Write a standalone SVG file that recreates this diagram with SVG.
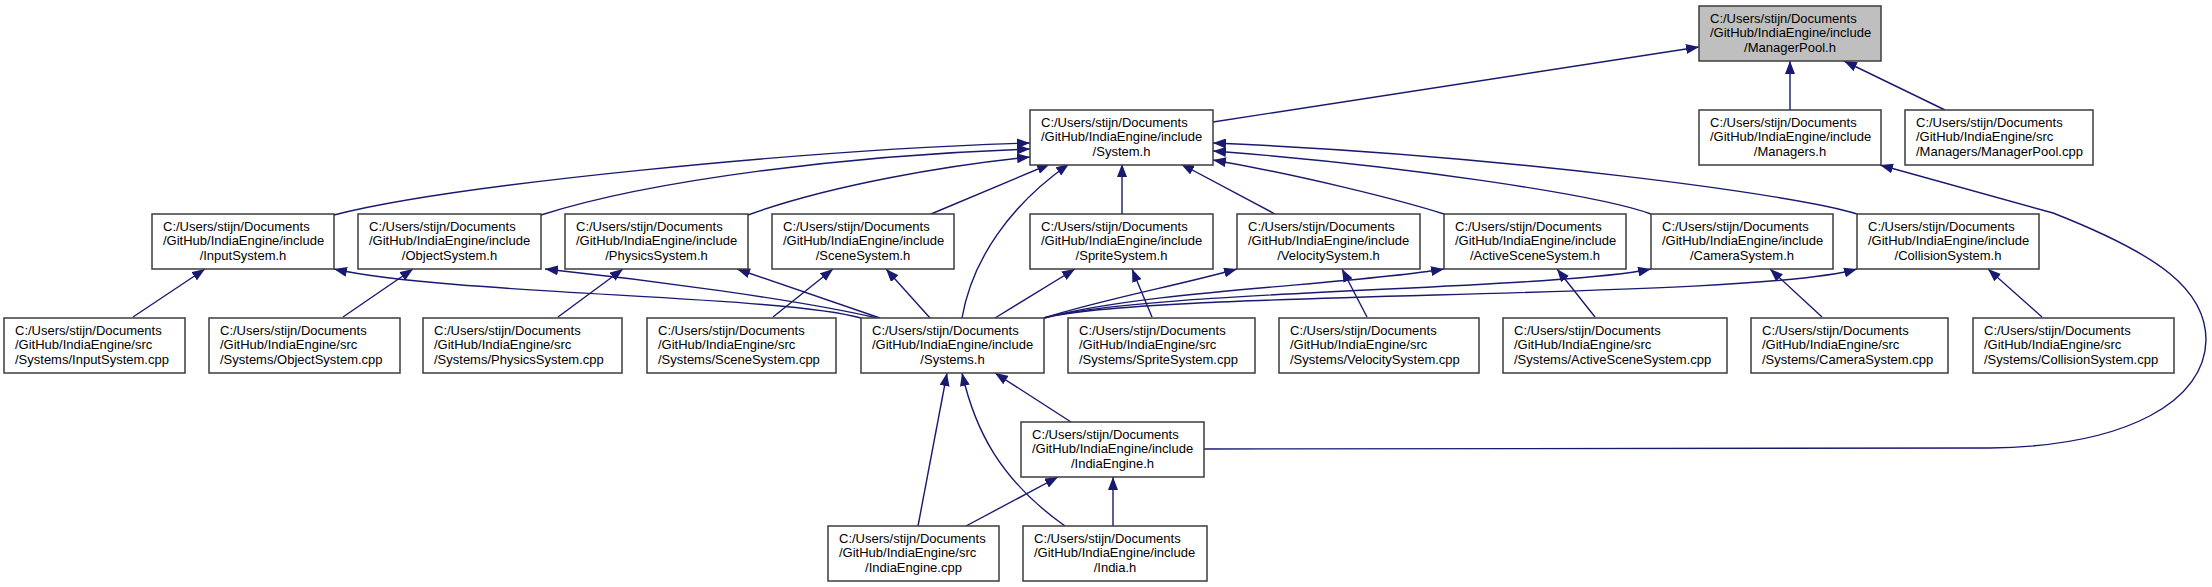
<svg xmlns="http://www.w3.org/2000/svg" width="2212" height="587" viewBox="0 0 2212 587">
<style>
.n rect{fill:#fff;stroke:#3c3c3c;stroke-width:1.5}
.n.g rect{fill:#bfbfbf}
.n text{font-family:"Liberation Sans",Arial,sans-serif;font-size:13px;fill:#000}
.n text.c{text-anchor:middle}
.e path{fill:none;stroke:#191970;stroke-width:1.4;marker-end:url(#ah)}
</style>
<defs>
<marker id="ah" markerUnits="userSpaceOnUse" markerWidth="14" markerHeight="10" refX="13" refY="5" orient="auto"><path d="M0,0 L13,5 L0,10 z" fill="#191970"/></marker>
</defs>
<rect width="2212" height="587" fill="#fff"/>
<g class="e" id="edges">
<path d="M1213,122 L1699,47"/>
<path d="M1790,110 L1790,61"/>
<path d="M1945,110 L1844,61"/>
<path d="M1204,449 L1990,448 C2130,446 2205,400 2206,340 C2206,290 2160,255 2053,213 L1880,165"/>
<path d="M334,215 C450,185 800,150 1030,143"/>
<path d="M541,215 C650,180 850,155 1030,149"/>
<path d="M748,215 C830,185 950,165 1030,157"/>
<path d="M931,214 L1050,164"/>
<path d="M962,318 C972,260 1010,205 1069,164"/>
<path d="M1122,214 L1122,164"/>
<path d="M1275,214 L1181,164"/>
<path d="M1444,214 C1400,200 1300,175 1213,160"/>
<path d="M1651,214 C1600,195 1400,165 1213,151"/>
<path d="M1857,214 C1800,195 1500,155 1213,143"/>
<path d="M861,318 C780,295 450,295 334,269"/>
<path d="M877,318 C800,300 650,280 545,269"/>
<path d="M880,318 L737,269"/>
<path d="M930,318 L886,269"/>
<path d="M995,318 L1075,269"/>
<path d="M1044,318 C1100,300 1180,285 1237,269"/>
<path d="M1044,318 C1150,290 1350,285 1444,269"/>
<path d="M1044,318 C1150,290 1550,290 1651,269"/>
<path d="M1044,318 C1150,290 1750,300 1857,269"/>
<path d="M1071,422 L995,373"/>
<path d="M918,526 L947,373"/>
<path d="M1065,526 C1000,480 975,430 962,373"/>
<path d="M966,526 L1058,477"/>
<path d="M1113,526 L1113,477"/>
<path d="M133,317 L205,269"/>
<path d="M343,317 L413,269"/>
<path d="M558,317 L623,269"/>
<path d="M773,317 L833,269"/>
<path d="M1152,317 L1132,269"/>
<path d="M1367,317 L1342,269"/>
<path d="M1595,317 L1557,269"/>
<path d="M1822,317 L1770,269"/>
<path d="M2042,317 L1988,269"/>
</g>
<g class="n g" id="n_managerpool_h"><rect x="1699" y="6" width="182" height="55"/><text x="1710" y="22.8">C:/Users/stijn/Documents</text><text x="1710" y="37.3">/GitHub/IndiaEngine/include</text><text class="c" x="1790" y="51.8">/ManagerPool.h</text></g>
<g class="n" id="n_system_h"><rect x="1030" y="110" width="183" height="55"/><text x="1041" y="126.8">C:/Users/stijn/Documents</text><text x="1041" y="141.3">/GitHub/IndiaEngine/include</text><text class="c" x="1121.5" y="155.8">/System.h</text></g>
<g class="n" id="n_managers_h"><rect x="1699" y="110" width="182" height="55"/><text x="1710" y="126.8">C:/Users/stijn/Documents</text><text x="1710" y="141.3">/GitHub/IndiaEngine/include</text><text class="c" x="1790" y="155.8">/Managers.h</text></g>
<g class="n" id="n_managerpool_cpp"><rect x="1905" y="110" width="188" height="55"/><text x="1916" y="126.8">C:/Users/stijn/Documents</text><text x="1916" y="141.3">/GitHub/IndiaEngine/src</text><text x="1916" y="155.8">/Managers/ManagerPool.cpp</text></g>
<g class="n" id="n_inputsystem_h"><rect x="152" y="214" width="182" height="55"/><text x="163" y="230.8">C:/Users/stijn/Documents</text><text x="163" y="245.3">/GitHub/IndiaEngine/include</text><text class="c" x="243" y="259.8">/InputSystem.h</text></g>
<g class="n" id="n_objectsystem_h"><rect x="358" y="214" width="183" height="55"/><text x="369" y="230.8">C:/Users/stijn/Documents</text><text x="369" y="245.3">/GitHub/IndiaEngine/include</text><text class="c" x="449.5" y="259.8">/ObjectSystem.h</text></g>
<g class="n" id="n_physicssystem_h"><rect x="565" y="214" width="183" height="55"/><text x="576" y="230.8">C:/Users/stijn/Documents</text><text x="576" y="245.3">/GitHub/IndiaEngine/include</text><text class="c" x="656.5" y="259.8">/PhysicsSystem.h</text></g>
<g class="n" id="n_scenesystem_h"><rect x="772" y="214" width="182" height="55"/><text x="783" y="230.8">C:/Users/stijn/Documents</text><text x="783" y="245.3">/GitHub/IndiaEngine/include</text><text class="c" x="863" y="259.8">/SceneSystem.h</text></g>
<g class="n" id="n_spritesystem_h"><rect x="1030" y="214" width="183" height="55"/><text x="1041" y="230.8">C:/Users/stijn/Documents</text><text x="1041" y="245.3">/GitHub/IndiaEngine/include</text><text class="c" x="1121.5" y="259.8">/SpriteSystem.h</text></g>
<g class="n" id="n_velocitysystem_h"><rect x="1237" y="214" width="183" height="55"/><text x="1248" y="230.8">C:/Users/stijn/Documents</text><text x="1248" y="245.3">/GitHub/IndiaEngine/include</text><text class="c" x="1328.5" y="259.8">/VelocitySystem.h</text></g>
<g class="n" id="n_activescenesystem_h"><rect x="1444" y="214" width="182" height="55"/><text x="1455" y="230.8">C:/Users/stijn/Documents</text><text x="1455" y="245.3">/GitHub/IndiaEngine/include</text><text class="c" x="1535" y="259.8">/ActiveSceneSystem.h</text></g>
<g class="n" id="n_camerasystem_h"><rect x="1651" y="214" width="182" height="55"/><text x="1662" y="230.8">C:/Users/stijn/Documents</text><text x="1662" y="245.3">/GitHub/IndiaEngine/include</text><text class="c" x="1742" y="259.8">/CameraSystem.h</text></g>
<g class="n" id="n_collisionsystem_h"><rect x="1857" y="214" width="182" height="55"/><text x="1868" y="230.8">C:/Users/stijn/Documents</text><text x="1868" y="245.3">/GitHub/IndiaEngine/include</text><text class="c" x="1948" y="259.8">/CollisionSystem.h</text></g>
<g class="n" id="n_inputsystem_cpp"><rect x="4" y="318" width="181" height="55"/><text x="15" y="334.8">C:/Users/stijn/Documents</text><text x="15" y="349.3">/GitHub/IndiaEngine/src</text><text x="15" y="363.8">/Systems/InputSystem.cpp</text></g>
<g class="n" id="n_objectsystem_cpp"><rect x="209" y="318" width="191" height="55"/><text x="220" y="334.8">C:/Users/stijn/Documents</text><text x="220" y="349.3">/GitHub/IndiaEngine/src</text><text x="220" y="363.8">/Systems/ObjectSystem.cpp</text></g>
<g class="n" id="n_physicssystem_cpp"><rect x="423" y="318" width="199" height="55"/><text x="434" y="334.8">C:/Users/stijn/Documents</text><text x="434" y="349.3">/GitHub/IndiaEngine/src</text><text x="434" y="363.8">/Systems/PhysicsSystem.cpp</text></g>
<g class="n" id="n_scenesystem_cpp"><rect x="647" y="318" width="189" height="55"/><text x="658" y="334.8">C:/Users/stijn/Documents</text><text x="658" y="349.3">/GitHub/IndiaEngine/src</text><text x="658" y="363.8">/Systems/SceneSystem.cpp</text></g>
<g class="n" id="n_systems_h"><rect x="861" y="318" width="183" height="55"/><text x="872" y="334.8">C:/Users/stijn/Documents</text><text x="872" y="349.3">/GitHub/IndiaEngine/include</text><text class="c" x="952.5" y="363.8">/Systems.h</text></g>
<g class="n" id="n_spritesystem_cpp"><rect x="1068" y="318" width="187" height="55"/><text x="1079" y="334.8">C:/Users/stijn/Documents</text><text x="1079" y="349.3">/GitHub/IndiaEngine/src</text><text x="1079" y="363.8">/Systems/SpriteSystem.cpp</text></g>
<g class="n" id="n_velocitysystem_cpp"><rect x="1279" y="318" width="200" height="55"/><text x="1290" y="334.8">C:/Users/stijn/Documents</text><text x="1290" y="349.3">/GitHub/IndiaEngine/src</text><text x="1290" y="363.8">/Systems/VelocitySystem.cpp</text></g>
<g class="n" id="n_activescenesystem_cpp"><rect x="1503" y="318" width="224" height="55"/><text x="1514" y="334.8">C:/Users/stijn/Documents</text><text x="1514" y="349.3">/GitHub/IndiaEngine/src</text><text x="1514" y="363.8">/Systems/ActiveSceneSystem.cpp</text></g>
<g class="n" id="n_camerasystem_cpp"><rect x="1751" y="318" width="197" height="55"/><text x="1762" y="334.8">C:/Users/stijn/Documents</text><text x="1762" y="349.3">/GitHub/IndiaEngine/src</text><text x="1762" y="363.8">/Systems/CameraSystem.cpp</text></g>
<g class="n" id="n_collisionsystem_cpp"><rect x="1973" y="318" width="201" height="55"/><text x="1984" y="334.8">C:/Users/stijn/Documents</text><text x="1984" y="349.3">/GitHub/IndiaEngine/src</text><text x="1984" y="363.8">/Systems/CollisionSystem.cpp</text></g>
<g class="n" id="n_indiaengine_h"><rect x="1021" y="422" width="183" height="55"/><text x="1032" y="438.8">C:/Users/stijn/Documents</text><text x="1032" y="453.3">/GitHub/IndiaEngine/include</text><text class="c" x="1112.5" y="467.8">/IndiaEngine.h</text></g>
<g class="n" id="n_indiaengine_cpp"><rect x="828" y="526" width="171" height="55"/><text x="839" y="542.8">C:/Users/stijn/Documents</text><text x="839" y="557.3">/GitHub/IndiaEngine/src</text><text class="c" x="913.5" y="571.8">/IndiaEngine.cpp</text></g>
<g class="n" id="n_india_h"><rect x="1023" y="526" width="184" height="55"/><text x="1034" y="542.8">C:/Users/stijn/Documents</text><text x="1034" y="557.3">/GitHub/IndiaEngine/include</text><text class="c" x="1115" y="571.8">/India.h</text></g>
</svg>
